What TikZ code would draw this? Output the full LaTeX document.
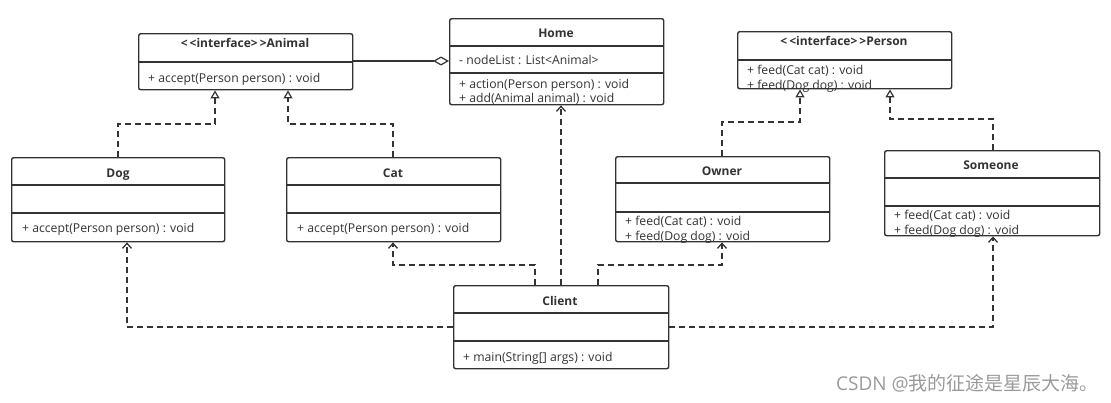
\documentclass[tikz,border=0pt]{standalone}
\usepackage{fontspec}
\setmainfont{Open Sans}
\newfontfamily\cjk{Noto Sans CJK SC}
\usetikzlibrary{arrows.meta}
\definecolor{ln}{HTML}{333333}
\definecolor{tx}{HTML}{333333}
\definecolor{wm}{HTML}{9A9A9A}
\newcommand{\stereo}[1]{\textless\,\textless interface\textgreater\,\textgreater #1}
\tikzset{
  cls/.style={draw=ln, line width=1.4pt, rounded corners=2pt, anchor=north west, inner sep=0pt, fill=white},
  divl/.style={draw=ln, line width=1.3pt},
  ttl/.style={anchor=base, font=\fontsize{12}{14}\selectfont\bfseries, text=tx, inner sep=0pt},
  mth/.style={anchor=base west, font=\fontsize{12.2}{14}\selectfont, text=tx, inner sep=0pt},
  dep/.style={draw=ln, line width=1.3pt, dash pattern=on 6pt off 4pt, -{Straight Barb[length=5pt, width=9pt, line width=1.3pt]}},
  real/.style={draw=ln, line width=1.3pt, dash pattern=on 6pt off 4pt, -{Triangle[open, length=8pt, width=9pt, line width=1.2pt]}},
  agg/.style={draw=ln, line width=1.4pt, -{Diamond[open, length=16pt, width=9pt, line width=1.2pt]}}
}
\begin{document}
\begin{tikzpicture}[x=1pt, y=-1pt]
\path[use as bounding box] (0,0) rectangle (1111,402);
% ---------- Animal ----------
\node[cls, minimum width=214pt, minimum height=56pt] (animal) at (138,33) {};
\draw[divl] (138,62) -- (352,62);
\node[ttl] (animalT) at (245,47) {\stereo{Animal}};
\node[mth] (animalM) at (148,82) {+ accept(Person person) : void};
% ---------- Home ----------
\node[cls, minimum width=214pt, minimum height=86pt] (home) at (449,18) {};
\draw[divl] (449,46) -- (663,46);
\draw[divl] (449,73) -- (663,73);
\node[ttl] (homeT) at (556,37) {Home};
\node[mth] (homeA) at (459,64) {- nodeList : List\textless Animal\textgreater};
\node[mth] (homeM1) at (459,88) {+ action(Person person) : void};
\node[mth] (homeM2) at (459,102) {+ add(Animal animal) : void};
% ---------- Person ----------
\node[cls, minimum width=214pt, minimum height=57pt] (person) at (737,31) {};
\draw[divl] (737,60) -- (951,60);
\node[ttl] (personT) at (844,45) {\stereo{Person}};
\node[mth] (personM1) at (747,74) {+ feed(Cat cat) : void};
\node[mth] (personM2) at (747,89) {+ feed(Dog dog) : void};
% ---------- Dog ----------
\node[cls, minimum width=213pt, minimum height=84pt] (dog) at (11,157) {};
\draw[divl] (11,185) -- (224,185);
\draw[divl] (11,213) -- (224,213);
\node[ttl] (dogT) at (118,177) {Dog};
\node[mth] (dogM) at (22,232) {+ accept(Person person) : void};
% ---------- Cat ----------
\node[cls, minimum width=214pt, minimum height=84pt] (cat) at (286,157) {};
\draw[divl] (286,185) -- (500,185);
\draw[divl] (286,213) -- (500,213);
\node[ttl] (catT) at (393,177) {Cat};
\node[mth] (catM) at (297,232) {+ accept(Person person) : void};
% ---------- Owner ----------
\node[cls, minimum width=214pt, minimum height=85pt] (owner) at (615,156) {};
\draw[divl] (615,183) -- (829,183);
\draw[divl] (615,212) -- (829,212);
\node[ttl] (ownerT) at (722,175) {Owner};
\node[mth] (ownerM1) at (625,225) {+ feed(Cat cat) : void};
\node[mth] (ownerM2) at (625,240) {+ feed(Dog dog) : void};
% ---------- Someone ----------
\node[cls, minimum width=215pt, minimum height=85pt] (someone) at (884,150) {};
\draw[divl] (884,178) -- (1099,178);
\draw[divl] (884,206) -- (1099,206);
\node[ttl] (someoneT) at (991,169) {Someone};
\node[mth] (someoneM1) at (894,219) {+ feed(Cat cat) : void};
\node[mth] (someoneM2) at (894,234) {+ feed(Dog dog) : void};
% ---------- Client ----------
\node[cls, minimum width=215pt, minimum height=83pt] (client) at (453,285) {};
\draw[divl] (453,313) -- (668,313);
\draw[divl] (453,341) -- (668,341);
\node[ttl] (clientT) at (560,305) {Client};
\node[mth] (clientM) at (463,361) {+ main(String[] args) : void};
% ---------- coordinates ----------
\coordinate (c1) at (118,124);
\coordinate (c2) at (215,124);
\coordinate (c3) at (393,124);
\coordinate (c4) at (288,124);
\coordinate (c5) at (722,122);
\coordinate (c6) at (800,122);
\coordinate (c7) at (993,119);
\coordinate (c8) at (890,119);
\coordinate (d1) at (127,327);
\coordinate (d2) at (535,265);
\coordinate (d3) at (393,265);
\coordinate (d4) at (598,265);
\coordinate (d5) at (722,265);
\coordinate (d6) at (993,327);
% ---------- connectors ----------
\draw[agg] (animal.east |- 0,61) -- (home.west |- 0,61);
\draw[real] (dog.north -| c1) -- (c1) -- (c2) -- (animal.south -| c2);
\draw[real] (cat.north -| c3) -- (c3) -- (c4) -- (animal.south -| c4);
\draw[real] (owner.north -| c5) -- (c5) -- (c6) -- (person.south -| c6);
\draw[real] (someone.north -| c7) -- (c7) -- (c8) -- (person.south -| c8);
\draw[dep] (client.west |- d1) -- (d1) -- (dog.south -| d1);
\draw[dep] (client.north -| d2) -- (d2) -- (d3) -- (cat.south -| d3);
\draw[dep] (client.north -| 561,0) -- (home.south -| 561,0);
\draw[dep] (client.north -| d4) -- (d4) -- (d5) -- (owner.south -| d5);
\draw[dep] (client.east |- d6) -- (d6) -- (someone.south -| d6);
% ---------- watermark ----------
\node[anchor=base west, text=wm, font=\fontsize{19}{22}\selectfont, inner sep=0pt] (wmk) at (836,390) {CSDN @{\cjk 我的征途是星辰大海。}};
\end{tikzpicture}
\end{document}
